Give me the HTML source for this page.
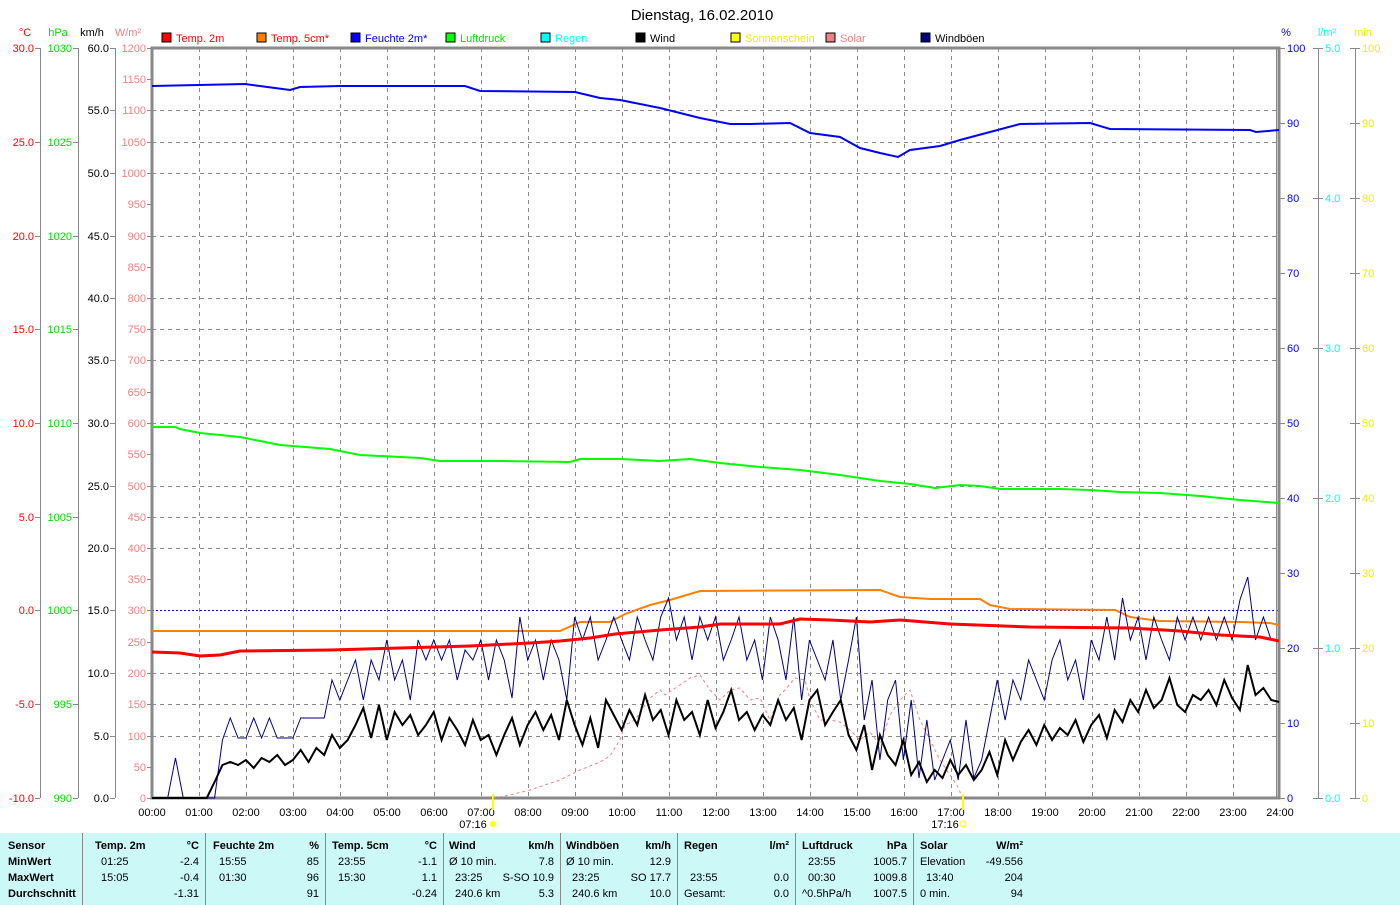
<!DOCTYPE html>
<html><head><meta charset="utf-8"><style>
body{margin:0;background:#fff;width:1400px;height:905px;overflow:hidden;font-family:"Liberation Sans",sans-serif}
svg text{font-family:"Liberation Sans",sans-serif;font-size:11px}
.tb{position:absolute;left:0;top:833px;width:1400px;height:72px;background:#ccf8f8;font-size:11px;font-family:"Liberation Sans",sans-serif}
.c{position:absolute;top:0;height:72px;border-left:1px solid #888}
.r{position:absolute;white-space:nowrap}
.b{font-weight:bold}
</style></head><body>
<svg width="1400" height="833" style="position:absolute;left:0;top:0">
<text x="702" y="20" text-anchor="middle" style="font-size:15px">Dienstag, 16.02.2010</text>
<g font-size="11">
<rect x="162" y="33" width="9" height="9" fill="#f00" stroke="#000"/><text x="176" y="42" fill="#f00">Temp. 2m</text>
<rect x="257" y="33" width="9" height="9" fill="#ff8000" stroke="#000"/><text x="271" y="42" fill="#f00">Temp. 5cm*</text>
<rect x="351" y="33" width="9" height="9" fill="#00f" stroke="#000"/><text x="365" y="42" fill="#00f">Feuchte 2m*</text>
<rect x="446" y="33" width="9" height="9" fill="#0f0" stroke="#000"/><text x="460" y="42" fill="#0d0">Luftdruck</text>
<rect x="541" y="33" width="9" height="9" fill="#0ff" stroke="#000"/><text x="555" y="42" fill="#0ff">Regen</text>
<rect x="636" y="33" width="9" height="9" fill="#000" stroke="#000"/><text x="650" y="42">Wind</text>
<rect x="731" y="33" width="9" height="9" fill="#ff0" stroke="#000"/><text x="745" y="42" fill="#ee0">Sonnenschein</text>
<rect x="826" y="33" width="9" height="9" fill="#f08080" stroke="#000"/><text x="840" y="42" fill="#f08080">Solar</text>
<rect x="921" y="33" width="9" height="9" fill="#000080" stroke="#000"/><text x="935" y="42">Windböen</text>
</g>
<text x="25" y="36" fill="#f00" text-anchor="middle">°C</text>
<text x="58" y="36" fill="#0d0" text-anchor="middle">hPa</text>
<text x="92" y="36" text-anchor="middle">km/h</text>
<text x="128" y="36" fill="#f08080" text-anchor="middle">W/m²</text>
<text x="1286" y="36" fill="#00f" text-anchor="middle">%</text>
<text x="1327" y="36" fill="#0ff" text-anchor="middle">l/m²</text>
<text x="1363" y="36" fill="#ee0" text-anchor="middle">min</text>
<g stroke="#888" stroke-dasharray="4,4" stroke-width="1">
<path d="M152 110.5H1279M152 142.5H1279M152 173.5H1279M152 236.5H1279M152 298.5H1279M152 329.5H1279M152 360.5H1279M152 423.5H1279M152 486.5H1279M152 517.5H1279M152 548.5H1279M152 673.5H1279M152 704.5H1279M152 736.5H1279"/>
<path d="M199.5 48V798M246.5 48V798M293.5 48V798M340.5 48V798M387.5 48V798M434.5 48V798M481.5 48V798M528.5 48V798M575.5 48V798M622.5 48V798M669.5 48V798M716.5 48V798M763.5 48V798M810.5 48V798M857.5 48V798M904.5 48V798M951.5 48V798M998.5 48V798M1045.5 48V798M1092.5 48V798M1139.5 48V798M1186.5 48V798M1233.5 48V798"/>
</g>
<path d="M152 610.5H1279" stroke="#00f" stroke-dasharray="2,2"/>
<g stroke="#888" fill="none">
<rect x="152" y="48" width="1127" height="750" stroke-width="3"/>
<path d="M40.5 48V798M78.5 48V798M115.5 48V798M1318.5 48V798M1355.5 48V798M1276.5 48V798"/>
<path d="M35 48.5H40M35 142.5H40M35 236.5H40M35 329.5H40M35 423.5H40M35 517.5H40M35 610.5H40M35 704.5H40M35 798.5H40"/>
<path d="M73 48.5H78M73 142.5H78M73 236.5H78M73 329.5H78M73 423.5H78M73 517.5H78M73 610.5H78M73 704.5H78M73 798.5H78"/>
<path d="M110 48.5H115M110 110.5H115M110 173.5H115M110 236.5H115M110 298.5H115M110 360.5H115M110 423.5H115M110 486.5H115M110 548.5H115M110 610.5H115M110 673.5H115M110 736.5H115M110 798.5H115"/>
<path d="M147 48.5H152M147 79.5H152M147 110.5H152M147 142.5H152M147 173.5H152M147 204.5H152M147 236.5H152M147 267.5H152M147 298.5H152M147 329.5H152M147 360.5H152M147 392.5H152M147 423.5H152M147 454.5H152M147 486.5H152M147 517.5H152M147 548.5H152M147 579.5H152M147 610.5H152M147 642.5H152M147 673.5H152M147 704.5H152M147 736.5H152M147 767.5H152M147 798.5H152"/>
<path d="M1280 48.5H1285M1280 123.5H1285M1280 198.5H1285M1280 273.5H1285M1280 348.5H1285M1280 423.5H1285M1280 498.5H1285M1280 573.5H1285M1280 648.5H1285M1280 723.5H1285M1280 798.5H1285"/>
<path d="M1313 48.5H1323M1313 198.5H1323M1313 348.5H1323M1313 498.5H1323M1313 648.5H1323M1313 798.5H1323"/>
<path d="M1350 48.5H1360M1350 123.5H1360M1350 198.5H1360M1350 273.5H1360M1350 348.5H1360M1350 423.5H1360M1350 498.5H1360M1350 573.5H1360M1350 648.5H1360M1350 723.5H1360M1350 798.5H1360"/>
</g>
<g fill="#f00" text-anchor="end">
<text x="34" y="52">30.0</text><text x="34" y="146">25.0</text><text x="34" y="240">20.0</text><text x="34" y="333">15.0</text><text x="34" y="427">10.0</text><text x="34" y="521">5.0</text><text x="34" y="614">0.0</text><text x="34" y="708">-5.0</text><text x="34" y="802">-10.0</text></g>
<g fill="#0d0" text-anchor="end">
<text x="72" y="52">1030</text><text x="72" y="146">1025</text><text x="72" y="240">1020</text><text x="72" y="333">1015</text><text x="72" y="427">1010</text><text x="72" y="521">1005</text><text x="72" y="614">1000</text><text x="72" y="708">995</text><text x="72" y="802">990</text></g>
<g fill="#000" text-anchor="end">
<text x="109" y="52">60.0</text><text x="109" y="114">55.0</text><text x="109" y="177">50.0</text><text x="109" y="240">45.0</text><text x="109" y="302">40.0</text><text x="109" y="364">35.0</text><text x="109" y="427">30.0</text><text x="109" y="490">25.0</text><text x="109" y="552">20.0</text><text x="109" y="614">15.0</text><text x="109" y="677">10.0</text><text x="109" y="740">5.0</text><text x="109" y="802">0.0</text></g>
<g fill="#f08080" text-anchor="end">
<text x="146" y="52">1200</text><text x="146" y="83">1150</text><text x="146" y="114">1100</text><text x="146" y="146">1050</text><text x="146" y="177">1000</text><text x="146" y="208">950</text><text x="146" y="240">900</text><text x="146" y="271">850</text><text x="146" y="302">800</text><text x="146" y="333">750</text><text x="146" y="364">700</text><text x="146" y="396">650</text><text x="146" y="427">600</text><text x="146" y="458">550</text><text x="146" y="490">500</text><text x="146" y="521">450</text><text x="146" y="552">400</text><text x="146" y="583">350</text><text x="146" y="614">300</text><text x="146" y="646">250</text><text x="146" y="677">200</text><text x="146" y="708">150</text><text x="146" y="740">100</text><text x="146" y="771">50</text><text x="146" y="802">0</text></g>
<g fill="#00f">
<text x="1287" y="52">100</text><text x="1287" y="127">90</text><text x="1287" y="202">80</text><text x="1287" y="277">70</text><text x="1287" y="352">60</text><text x="1287" y="427">50</text><text x="1287" y="502">40</text><text x="1287" y="577">30</text><text x="1287" y="652">20</text><text x="1287" y="727">10</text><text x="1287" y="802">0</text></g>
<g fill="#0ff">
<text x="1325" y="52">5.0</text><text x="1325" y="202">4.0</text><text x="1325" y="352">3.0</text><text x="1325" y="502">2.0</text><text x="1325" y="652">1.0</text><text x="1325" y="802">0.0</text></g>
<g fill="#ee0">
<text x="1362" y="52">100</text><text x="1362" y="127">90</text><text x="1362" y="202">80</text><text x="1362" y="277">70</text><text x="1362" y="352">60</text><text x="1362" y="427">50</text><text x="1362" y="502">40</text><text x="1362" y="577">30</text><text x="1362" y="652">20</text><text x="1362" y="727">10</text><text x="1362" y="802">0</text></g>
<g text-anchor="middle">
<text x="152" y="816">00:00</text><text x="199" y="816">01:00</text><text x="246" y="816">02:00</text><text x="293" y="816">03:00</text><text x="340" y="816">04:00</text><text x="387" y="816">05:00</text><text x="434" y="816">06:00</text><text x="481" y="816">07:00</text><text x="528" y="816">08:00</text><text x="575" y="816">09:00</text><text x="622" y="816">10:00</text><text x="669" y="816">11:00</text><text x="716" y="816">12:00</text><text x="763" y="816">13:00</text><text x="810" y="816">14:00</text><text x="857" y="816">15:00</text><text x="904" y="816">16:00</text><text x="951" y="816">17:00</text><text x="998" y="816">18:00</text><text x="1045" y="816">19:00</text><text x="1092" y="816">20:00</text><text x="1139" y="816">21:00</text><text x="1186" y="816">22:00</text><text x="1233" y="816">23:00</text><text x="1280" y="816">24:00</text>
<text x="473" y="828">07:16</text><text x="945" y="828">17:16</text></g>
<path d="M493 794V810M963 794V810" stroke="#ff0" stroke-width="2"/>
<circle cx="493" cy="824" r="3" fill="#ff0"/><circle cx="963" cy="824" r="3" fill="none" stroke="#ff0"/>
<g fill="none">
<polyline stroke="#f08080" stroke-dasharray="3,3" points="493,798 510,795 530,790 560,780 580,770 600,762 610,756 620,740 625,725 635,720 650,698 660,690 665,695 680,685 690,678 700,675 710,690 720,700 730,690 740,688 750,700 760,698 770,720 780,695 785,690 795,678 805,680 810,700 820,720 830,720 840,722 850,730 860,740 870,732 880,745 890,715 900,700 910,690 920,720 930,740 940,760 950,775 958,787 962,797"/>
<polyline stroke="#0f0" stroke-width="2" points="152,427 175,427 180,429 200,433 240,437 280,445 330,449 360,455 420,458 440,461 500,461 570,462 580,459 620,459 660,461 690,459 720,463 760,467 800,470 840,475 880,481 910,484 935,488 960,485 980,486 1000,489 1060,489 1090,490 1120,492 1160,493 1200,496 1240,500 1279,503"/>
<polyline stroke="#00f" stroke-width="2" points="152,86 245,84 275,88 290,90 300,87 340,86 465,86 480,91 575,92 600,98 620,100 660,108 700,118 730,124 750,124 790,123 810,133 840,137 860,148 880,153 898,157 910,150 940,146 960,140 990,132 1020,124 1090,123 1110,129 1250,130 1256,132 1279,130"/>
<polyline stroke="#ff8000" stroke-width="2" points="152,631 560,631 580,622 610,622 625,614 650,605 670,600 700,591 880,590 900,597 930,599 980,599 990,605 1010,609 1115,610 1130,617 1160,621 1240,622 1270,623 1279,625"/>
<polyline stroke="#000080" vector-effect="non-scaling-stroke" transform="translate(152,0) scale(7.8267,1)" points="0,798 2,798 3,758 4,798 8,798 9,740 10,718 11,738 12,738 13,718 14,738 15,718 16,738 17,738 18,738 19,718 20,718 21,718 22,718 23,680 24,700 25,680 26,660 27,700 28,660 29,680 30,640 31,680 32,660 33,700 34,640 35,660 36,640 37,660 38,640 39,680 40,650 41,660 42,640 43,680 44,640 45,660 46,698 47,617 48,660 49,640 50,680 51,640 52,660 53,700 54,617 55,640 56,617 57,660 58,640 59,617 60,640 61,660 62,617 63,640 64,660 65,617 66,598 67,640 68,617 69,660 70,617 71,640 72,617 73,660 74,640 75,617 76,660 77,640 78,680 79,617 80,640 81,680 82,617 83,700 84,640 85,660 86,680 87,640 88,700 89,660 90,617 91,720 92,680 93,760 94,700 95,680 96,760 97,700 98,778 99,720 100,780 101,760 102,740 103,780 104,720 105,778 106,760 107,720 108,680 109,720 110,680 111,700 112,660 113,680 114,700 115,660 116,640 117,680 118,660 119,700 120,640 121,660 122,617 123,660 124,598 125,640 126,617 127,660 128,617 129,640 130,660 131,617 132,640 133,617 134,640 135,617 136,640 137,617 138,640 139,600 140,577 141,640 142,617 143,640 144,640"/>
<polyline stroke="#000" stroke-width="2" vector-effect="non-scaling-stroke" transform="translate(152,0) scale(7.8267,1)" points="0,798 7,798 8,782 9,765 10,762 11,765 12,760 13,768 14,758 15,762 16,755 17,765 18,760 19,750 20,762 21,748 22,755 23,735 24,748 25,740 26,725 27,708 28,738 29,705 30,740 31,712 32,725 33,715 34,735 35,725 36,712 37,740 38,718 39,730 40,745 41,720 42,740 43,735 44,755 45,735 46,718 47,745 48,725 49,712 50,730 51,715 52,740 53,700 54,725 55,745 56,718 57,748 58,700 59,715 60,730 61,710 62,725 63,695 64,720 65,710 66,735 67,700 68,720 69,712 70,735 71,700 72,728 73,712 74,690 75,720 76,712 77,730 78,715 79,725 80,700 81,720 82,708 83,740 84,700 85,690 86,725 87,712 88,700 89,735 90,750 91,725 92,770 93,735 94,755 95,765 96,740 97,775 98,762 99,782 100,770 101,778 102,760 103,775 104,765 105,780 106,770 107,752 108,775 109,740 110,760 111,742 112,730 113,745 114,725 115,740 116,728 117,735 118,720 119,742 120,725 121,715 122,738 123,710 124,722 125,700 126,712 127,690 128,708 129,700 130,678 131,705 132,712 133,695 134,700 135,690 136,705 137,680 138,698 139,710 140,665 141,695 142,688 143,700 144,702"/>
<polyline stroke="#f00" stroke-width="3" points="152,652 180,653 200,656 220,655 240,651 330,650 400,648 470,646 530,643 560,641 590,638 615,634 660,630 700,627 720,624 780,624 800,619 830,620 870,622 900,620 950,624 1030,627 1130,628 1180,631 1220,635 1260,637 1279,641"/>
</g>
</svg>
<div class="tb">
<div class="r b" style="left:8px;top:7px">Sensor</div>
<div class="r b" style="left:8px;top:23px">MinWert</div>
<div class="r b" style="left:8px;top:39px">MaxWert</div>
<div class="r b" style="left:8px;top:55px">Durchschnitt</div>
<div class="c" style="left:82px;width:122px">
<div class="r b" style="left:12px;top:7px">Temp. 2m</div><div class="r b" style="right:6px;top:7px">°C</div>
<div class="r" style="left:18px;top:23px">01:25</div><div class="r" style="right:6px;top:23px">-2.4</div>
<div class="r" style="left:18px;top:39px">15:05</div><div class="r" style="right:6px;top:39px">-0.4</div>
<div class="r" style="right:6px;top:55px">-1.31</div></div>
<div class="c" style="left:205px;width:119px">
<div class="r b" style="left:7px;top:7px">Feuchte 2m</div><div class="r b" style="right:6px;top:7px">%</div>
<div class="r" style="left:13px;top:23px">15:55</div><div class="r" style="right:6px;top:23px">85</div>
<div class="r" style="left:13px;top:39px">01:30</div><div class="r" style="right:6px;top:39px">96</div>
<div class="r" style="right:6px;top:55px">91</div></div>
<div class="c" style="left:325px;width:117px">
<div class="r b" style="left:6px;top:7px">Temp. 5cm</div><div class="r b" style="right:6px;top:7px">°C</div>
<div class="r" style="left:12px;top:23px">23:55</div><div class="r" style="right:6px;top:23px">-1.1</div>
<div class="r" style="left:12px;top:39px">15:30</div><div class="r" style="right:6px;top:39px">1.1</div>
<div class="r" style="right:6px;top:55px">-0.24</div></div>
<div class="c" style="left:443px;width:116px">
<div class="r b" style="left:5px;top:7px">Wind</div><div class="r b" style="right:6px;top:7px">km/h</div>
<div class="r" style="left:5px;top:23px">Ø 10 min.</div><div class="r" style="right:6px;top:23px">7.8</div>
<div class="r" style="left:11px;top:39px">23:25</div><div class="r" style="right:6px;top:39px">S-SO 10.9</div>
<div class="r" style="left:11px;top:55px">240.6 km</div><div class="r" style="right:6px;top:55px">5.3</div></div>
<div class="c" style="left:560px;width:116px">
<div class="r b" style="left:5px;top:7px">Windböen</div><div class="r b" style="right:6px;top:7px">km/h</div>
<div class="r" style="left:5px;top:23px">Ø 10 min.</div><div class="r" style="right:6px;top:23px">12.9</div>
<div class="r" style="left:11px;top:39px">23:25</div><div class="r" style="right:6px;top:39px">SO 17.7</div>
<div class="r" style="left:11px;top:55px">240.6 km</div><div class="r" style="right:6px;top:55px">10.0</div></div>
<div class="c" style="left:677px;width:117px">
<div class="r b" style="left:6px;top:7px">Regen</div><div class="r b" style="right:6px;top:7px">l/m²</div>
<div class="r" style="left:12px;top:39px">23:55</div><div class="r" style="right:6px;top:39px">0.0</div>
<div class="r" style="left:6px;top:55px">Gesamt:</div><div class="r" style="right:6px;top:55px">0.0</div></div>
<div class="c" style="left:795px;width:117px">
<div class="r b" style="left:6px;top:7px">Luftdruck</div><div class="r b" style="right:6px;top:7px">hPa</div>
<div class="r" style="left:12px;top:23px">23:55</div><div class="r" style="right:6px;top:23px">1005.7</div>
<div class="r" style="left:12px;top:39px">00:30</div><div class="r" style="right:6px;top:39px">1009.8</div>
<div class="r" style="left:6px;top:55px">^0.5hPa/h</div><div class="r" style="right:6px;top:55px">1007.5</div></div>
<div class="c" style="left:913px;width:117px">
<div class="r b" style="left:6px;top:7px">Solar</div><div class="r b" style="right:8px;top:7px">W/m²</div>
<div class="r" style="left:6px;top:23px">Elevation</div><div class="r" style="right:8px;top:23px">-49.556</div>
<div class="r" style="left:12px;top:39px">13:40</div><div class="r" style="right:8px;top:39px">204</div>
<div class="r" style="left:6px;top:55px">0 min.</div><div class="r" style="right:8px;top:55px">94</div></div>
</div>
</body></html>
